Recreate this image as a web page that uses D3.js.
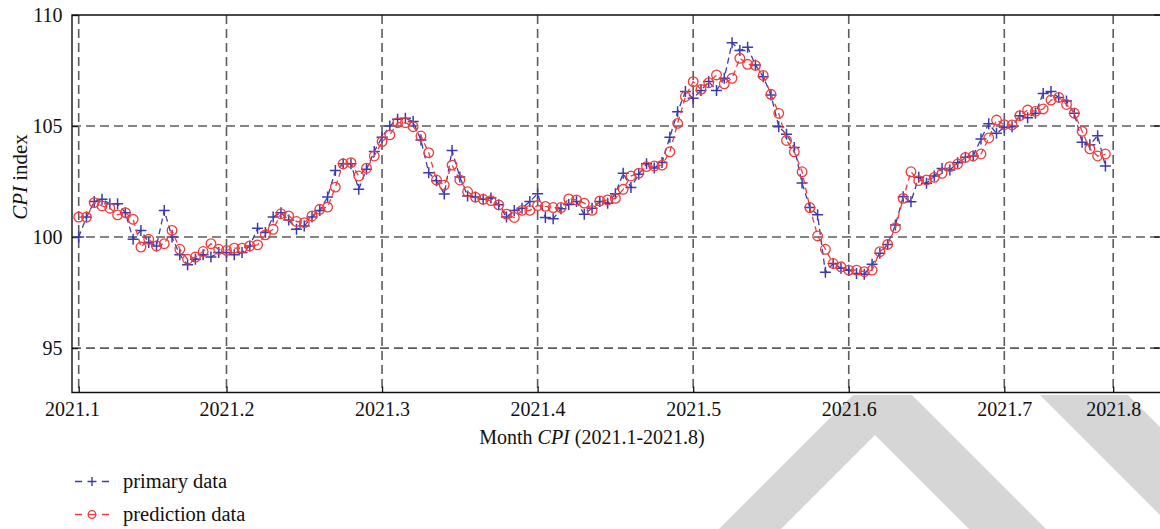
<!DOCTYPE html>
<html>
<head>
<meta charset="utf-8">
<script src="https://cdn.jsdelivr.net/npm/d3@7"></script>
<style>
  html, body { margin: 0; padding: 0; background: #fff; }
  svg { display: block; }
  text { font-family: "Liberation Serif", "DejaVu Serif", serif; fill: #111; }
</style>
</head>
<body>
<svg id="chart" width="1160" height="529"></svg>
<script>
// Daily CPI index, Jan–Aug 2021 (observation index along the x axis)
const primaryData = [
  100.0, 100.9, 101.6, 101.7, 101.5, 101.5, 101.1, 99.9, 100.3, 99.75,
  99.6, 101.2, 100.0, 99.2, 98.75, 99.0, 99.2, 99.1, 99.3, 99.3,
  99.2, 99.3, 99.6, 100.4, 100.2, 100.9, 101.1, 100.77, 100.35, 100.5,
  100.9, 101.2, 101.8, 103.0, 103.3, 103.3, 102.15, 103.05, 103.85, 104.5,
  105.0, 105.3, 105.35, 105.2, 104.37, 102.9, 102.54, 101.94, 103.9, 102.7,
  101.85, 101.8, 101.7, 101.76, 101.45, 100.9, 101.2, 101.3, 101.6, 101.95,
  100.88, 100.82, 101.28, 101.47, 101.6, 101.03, 101.3, 101.6, 101.52, 101.95,
  102.87, 102.23, 102.83, 103.3, 103.11, 103.36, 104.5, 105.64, 106.55, 106.25,
  106.6, 107.0, 106.6, 107.15, 108.75, 108.4, 108.55, 107.75, 107.22, 106.4,
  104.97, 104.63, 104.03, 102.43, 101.33, 101.0, 98.41, 98.81, 98.6, 98.51,
  98.36, 98.32, 98.77, 99.27, 99.67, 100.54, 101.82, 101.59, 102.69, 102.42,
  102.75, 103.09, 103.02, 103.35, 103.59, 103.65, 104.42, 105.1, 104.67, 104.94,
  104.97, 105.46, 105.37, 105.58, 106.47, 106.55, 106.29, 106.13, 105.57, 104.27,
  104.16, 104.56, 103.2
];

const predictionData = [
  100.9, 100.9, 101.55, 101.4, 101.3, 101.0, 101.1, 100.8, 99.55, 99.9,
  99.6, 99.7, 100.3, 99.45, 99.0, 99.1, 99.35, 99.7, 99.45, 99.4,
  99.5, 99.5, 99.6, 99.65, 100.1, 100.35, 101.05, 100.95, 100.7, 100.65,
  100.95, 101.25, 101.35, 102.25, 103.3, 103.35, 102.75, 103.1, 103.65, 104.3,
  104.6, 105.15, 105.15, 104.97, 104.55, 103.8, 102.57, 102.34, 103.24, 102.57,
  102.04, 101.8, 101.7, 101.64, 101.45, 101.03, 100.88, 101.2, 101.2, 101.42,
  101.38, 101.33, 101.33, 101.72, 101.67, 101.53, 101.2, 101.63, 101.67, 101.74,
  102.15, 102.75, 102.88, 103.17, 103.2, 103.24, 103.84, 105.12, 106.33, 107.0,
  106.65, 106.95, 107.3, 106.9, 107.15, 108.05, 107.78, 107.73, 107.28, 106.43,
  105.57, 104.35, 103.84, 102.94, 101.33, 100.05, 99.45, 98.81, 98.66, 98.51,
  98.51, 98.44, 98.51, 99.34, 99.67, 100.42, 101.74, 102.94, 102.54, 102.57,
  102.69, 102.87, 103.17, 103.29, 103.59, 103.65, 103.74, 104.46, 105.27, 105.06,
  105.05, 105.47, 105.72, 105.66, 105.77, 106.17, 106.29, 105.97, 105.58, 104.76,
  103.97, 103.65, 103.74
];

// Month boundaries (observation index) and their labels
const monthTickIndex = [0, 19, 39, 59, 79, 99, 119, 133];
const monthTickLabels = ["2021.1", "2021.2", "2021.3", "2021.4", "2021.5", "2021.6", "2021.7", "2021.8"];

const yTickValues = [95, 100, 105, 110];
const yDomain = [93, 110];

const seriesNames = ["primary data", "prediction data"];

// ---------------------------------------------------------------------------
const W = 1160, H = 529;
const plot = { left: 72, top: 15, right: 1160, bottom: 392.5 };
const BLUE = "#3b3bad";
const RED = "#ef3b3b";
const GRID = "#5c5c5c";

const svg = d3.select("#chart");

const x = d3.scaleLinear()
  .domain([0, 133])
  .range([78.7, 1113.2]);

const y = d3.scaleLinear()
  .domain(yDomain)
  .range([plot.bottom, plot.top]);

// Light publisher marks below the plot frame
const wm = svg.append("g").attr("fill", "#d6d6d6");
wm.append("path").attr("d",
  "M719,529 L853,395 L912,395 L1046,529 L969,529 L875,435 L781,529 Z");
wm.append("path").attr("d",
  "M1040,395 L1128,395 L1160,427 L1160,515 Z");

// Grid
const grid = svg.append("g")
  .attr("stroke", GRID)
  .attr("stroke-width", 1.6)
  .attr("stroke-dasharray", "9,5")
  .attr("fill", "none");

grid.selectAll("line.v")
  .data(monthTickIndex)
  .join("line")
  .attr("class", "v")
  .attr("x1", d => x(d)).attr("x2", d => x(d))
  .attr("y1", plot.top).attr("y2", plot.bottom);

grid.selectAll("line.h")
  .data(yTickValues.filter(v => v < yDomain[1]))
  .join("line")
  .attr("class", "h")
  .attr("x1", plot.left).attr("x2", plot.right)
  .attr("y1", d => y(d)).attr("y2", d => y(d));

// Axes
const yAxis = d3.axisLeft(y)
  .tickValues(yTickValues)
  .tickFormat(d3.format("d"))
  .tickSize(-6)
  .tickSizeOuter(0)
  .tickPadding(9.5);

const xAxis = d3.axisBottom(x)
  .tickValues(monthTickIndex)
  .tickFormat((d, i) => monthTickLabels[i])
  .tickSize(-6)
  .tickSizeOuter(0)
  .tickPadding(9.3);

const gy = svg.append("g")
  .attr("transform", `translate(${plot.left},0)`)
  .call(yAxis);

const gx = svg.append("g")
  .attr("transform", `translate(0,${plot.bottom})`)
  .call(xAxis);

[gx, gy].forEach(g => {
  g.select(".domain").remove();
  g.selectAll(".tick line").attr("stroke", "#111").attr("stroke-width", 1.3);
  g.selectAll(".tick text")
    .attr("fill", "#111")
    .style("font-family", '"Liberation Serif", "DejaVu Serif", serif')
    .style("font-size", "20px");
});
// first month label sits at the frame corner
gx.selectAll(".tick text").filter((d, i) => i === 0).attr("dx", -6.7);

// right-side tick marks
svg.append("g")
  .selectAll("line")
  .data(yTickValues)
  .join("line")
  .attr("x1", plot.right - 6).attr("x2", plot.right)
  .attr("y1", d => y(d)).attr("y2", d => y(d))
  .attr("stroke", "#111").attr("stroke-width", 1.3);

// Frame (left, top, bottom)
svg.append("path")
  .attr("d", `M${plot.right},${plot.top} H${plot.left} V${plot.bottom} H${plot.right}`)
  .attr("fill", "none")
  .attr("stroke", "#111")
  .attr("stroke-width", 1.4);

// Series
const line = d3.line()
  .x((d, i) => x(i))
  .y(d => y(d));

const plusPath = "M-5.5,0H5.5M0,-5.5V5.5";

function drawSeries(values, color, marker) {
  const g = svg.append("g");
  g.append("path")
    .datum(values)
    .attr("d", line)
    .attr("fill", "none")
    .attr("stroke", color)
    .attr("stroke-width", 1.3)
    .attr("stroke-dasharray", "6,4");
  if (marker === "plus") {
    g.selectAll("path.m")
      .data(values)
      .join("path")
      .attr("class", "m")
      .attr("transform", (d, i) => `translate(${x(i)},${y(d)})`)
      .attr("d", plusPath)
      .attr("stroke", color)
      .attr("stroke-width", 1.5)
      .attr("fill", "none");
  } else {
    g.selectAll("circle")
      .data(values)
      .join("circle")
      .attr("cx", (d, i) => x(i))
      .attr("cy", d => y(d))
      .attr("r", 4.8)
      .attr("stroke", color)
      .attr("stroke-width", 1.3)
      .attr("fill", "none");
  }
}

drawSeries(primaryData, BLUE, "plus");
drawSeries(predictionData, RED, "circle");

// Axis titles
const yTitle = svg.append("text")
  .attr("transform", "translate(27,177) rotate(-90)")
  .attr("text-anchor", "middle")
  .style("font-size", "21px");
yTitle.append("tspan").style("font-style", "italic").text("CPI");
yTitle.append("tspan").text(" index");

const xTitle = svg.append("text")
  .attr("x", 592)
  .attr("y", 444)
  .attr("text-anchor", "middle")
  .style("font-size", "20px");
xTitle.append("tspan").text("Month ");
xTitle.append("tspan").style("font-style", "italic").text("CPI");
xTitle.append("tspan").text(" (2021.1-2021.8)");

// Legend
const legend = svg.append("g");
const rows = [
  { name: seriesNames[0], color: BLUE, marker: "plus", cy: 481.5, base: 487.5 },
  { name: seriesNames[1], color: RED, marker: "circle", cy: 514.5, base: 520.5 }
];
rows.forEach(r => {
  const g = legend.append("g");
  g.append("line")
    .attr("x1", 75).attr("x2", 109)
    .attr("y1", r.cy).attr("y2", r.cy)
    .attr("stroke", r.color)
    .attr("stroke-width", 1.3)
    .attr("stroke-dasharray", "7,20");
  if (r.marker === "plus") {
    g.append("path")
      .attr("transform", `translate(92,${r.cy})`)
      .attr("d", "M-4.5,0H4.5M0,-4.5V4.5")
      .attr("stroke", r.color).attr("stroke-width", 1.4).attr("fill", "none");
  } else {
    g.append("circle")
      .attr("cx", 92).attr("cy", r.cy).attr("r", 3.8)
      .attr("stroke", r.color).attr("stroke-width", 1.3).attr("fill", "none");
    g.append("line")
      .attr("x1", 88.5).attr("x2", 95.5)
      .attr("y1", r.cy).attr("y2", r.cy)
      .attr("stroke", r.color).attr("stroke-width", 1.3);
  }
  g.append("text")
    .attr("x", 123)
    .attr("y", r.base)
    .style("font-size", "20.5px")
    .text(r.name);
});
</script>
</body>
</html>
